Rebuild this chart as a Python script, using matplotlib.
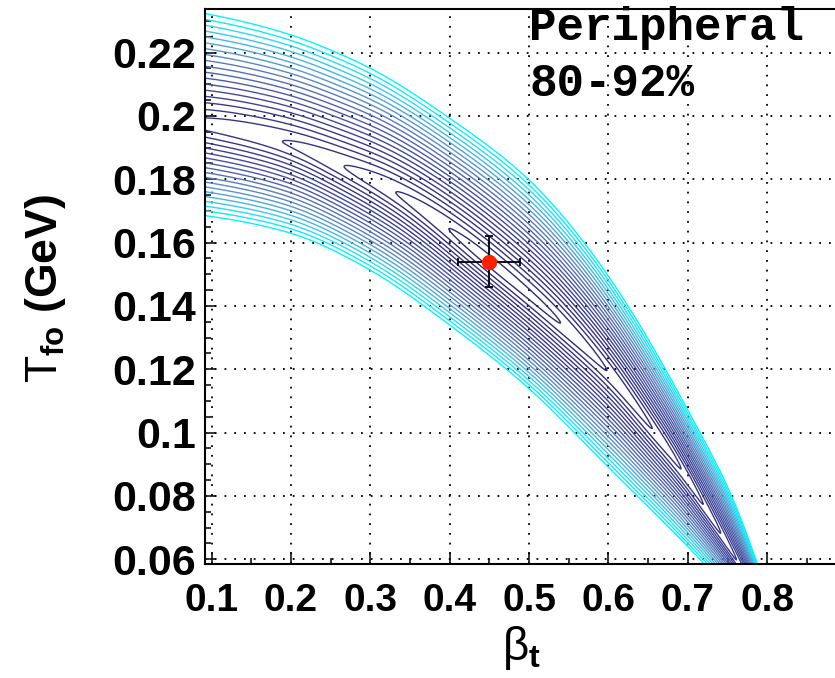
import numpy as np
import matplotlib
matplotlib.use("Agg")
import matplotlib.pyplot as plt
from matplotlib.colors import LinearSegmentedColormap
from matplotlib.ticker import MultipleLocator

plt.rcParams['font.family'] = ['Liberation Sans', 'DejaVu Sans']
plt.rcParams['mathtext.fontset'] = 'custom'
plt.rcParams['mathtext.rm'] = 'Liberation Sans'
plt.rcParams['mathtext.bf'] = 'Liberation Sans:bold'
plt.rcParams['mathtext.it'] = 'Liberation Sans:italic'

# ---- values ----
# upper edge of the outermost (largest) contour: beta -> T
top_beta = [0.0, 0.1, 0.2, 0.258, 0.3, 0.396, 0.5, 0.57, 0.625, 0.672, 0.715, 0.757, 0.786, 0.81, 0.95]
top_T = [0.236, 0.232, 0.2257, 0.22, 0.2152, 0.20, 0.18, 0.16, 0.14, 0.12, 0.10, 0.08, 0.06, 0.042, 0.0]
# lower edge of the outermost contour
low_beta = [0.0, 0.1, 0.2, 0.3, 0.4, 0.5, 0.6, 0.7, 0.8, 0.95]
low_T = [0.171, 0.1683, 0.1631, 0.1514, 0.1340, 0.1140, 0.0890, 0.0640, 0.037, -0.01]
# bottom of the chi2 valley
val_beta = [0.0, 0.1, 0.19, 0.267, 0.332, 0.45, 0.598, 0.656, 0.692, 0.72, 0.74, 0.8, 0.95]
val_T = [0.2, 0.197, 0.192, 0.184, 0.176, 0.154, 0.12, 0.101, 0.089, 0.077, 0.069, 0.043, -0.02]
# chi2 level along the valley bottom (in contour-level units)
g_beta = [0.0, 0.1, 0.19, 0.267, 0.332, 0.45, 0.52, 0.598, 0.656, 0.692, 0.72, 0.742, 0.8, 0.95]
g_val = [5.6, 4.6, 4.0, 3.0, 2.0, 0.6, 0.8, 2.0, 3.0, 4.0, 5.0, 6.0, 9.0, 15.0]
levels = list(range(1, 23))

# best-fit point
fit_beta = [0.449]
fit_T = [0.154]
fit_beta_err = [0.039]
fit_T_err = [0.008]

xticks = [0.1, 0.2, 0.3, 0.4, 0.5, 0.6, 0.7, 0.8]
xticklabels = ['0.1', '0.2', '0.3', '0.4', '0.5', '0.6', '0.7', '0.8']
yticks = [0.06, 0.08, 0.1, 0.12, 0.14, 0.16, 0.18, 0.2, 0.22]
yticklabels = ['0.06', '0.08', '0.1', '0.12', '0.14', '0.16', '0.18', '0.2', '0.22']


def pchip(x, xp, yp):
    xp = np.asarray(xp, float)
    yp = np.asarray(yp, float)
    hk = np.diff(xp)
    dk = np.diff(yp) / hk
    m = np.zeros_like(yp)
    for k in range(1, len(xp) - 1):
        if dk[k - 1] * dk[k] > 0:
            w1 = 2 * hk[k] + hk[k - 1]
            w2 = hk[k] + 2 * hk[k - 1]
            m[k] = (w1 + w2) / (w1 / dk[k - 1] + w2 / dk[k])
    m[0] = dk[0]
    m[-1] = dk[-1]
    idx = np.clip(np.searchsorted(xp, x) - 1, 0, len(xp) - 2)
    t = (x - xp[idx]) / hk[idx]
    h00 = 2 * t**3 - 3 * t**2 + 1
    h10 = t**3 - 2 * t**2 + t
    h01 = -2 * t**3 + 3 * t**2
    h11 = t**3 - t**2
    return (h00 * yp[idx] + h10 * hk[idx] * m[idx]
            + h01 * yp[idx + 1] + h11 * hk[idx] * m[idx + 1])


def smooth_curve(x, xp, yp, sigma=0.018):
    fine = np.linspace(xp[0], xp[-1], 1901)
    step = fine[1] - fine[0]
    y = pchip(fine, xp, yp)
    n = int(4 * sigma / step)
    k = np.exp(-0.5 * (np.arange(-n, n + 1) * step / sigma) ** 2)
    k /= k.sum()
    ypad = np.concatenate([np.full(n, y[0]), y, np.full(n, y[-1])])
    ys = np.convolve(ypad, k, mode='valid')
    return np.interp(x, fine, ys)


# ---- build field ----
bgrid = np.linspace(0.085, 0.89, 600)
tgrid = np.linspace(0.055, 0.236, 600)
B, T = np.meshgrid(bgrid, tgrid)
tp = smooth_curve(B, top_beta, top_T)
lo = smooth_curve(B, low_beta, low_T)
tc = smooth_curve(B, val_beta, val_T)
g = smooth_curve(B, g_beta, g_val, sigma=0.01)
d = T - tc
r = np.where(d >= 0, d / np.maximum(tp - tc, 1e-4), -d / np.maximum(tc - lo, 1e-4))
a = 0.1
h = (np.sqrt(r**2 + a**2) - a) / (np.sqrt(1 + a**2) - a)
Lmax = levels[-1]
F = g + (Lmax - g) * h

cmap = LinearSegmentedColormap.from_list(
    'root', [(0.0, '#2e2a78'), (0.3, '#3a3c8e'), (0.5, '#4e5eaa'), (0.65, '#5c84be'),
             (0.8, '#4ab2dc'), (0.9, '#2adaf0'), (1.0, '#00f6ff')])
cols = [cmap((lv - levels[0]) / (levels[-1] - levels[0])) for lv in levels]

W, H = 835, 678
fig = plt.figure(figsize=(W / 100, H / 100), dpi=100)
left, right, top, bottom = 204.5, 835.0, 9.0, 563.5
ax = fig.add_axes([left / W, 1 - bottom / H, (right - left) / W, (bottom - top) / H])

ax.contour(B, T, F, levels=levels, colors=cols, linewidths=1.0, zorder=2)

ax.errorbar(fit_beta, fit_T, xerr=fit_beta_err, yerr=fit_T_err, fmt='o',
            color='black', ecolor='black', elinewidth=1.3, capsize=3, capthick=1.3,
            markerfacecolor='#ff2000', markeredgecolor='#ff2000', markersize=10, zorder=5)

ax.set_xlim(0.09118, 0.8853)
ax.set_ylim(0.05867, 0.23379)

ax.set_xticks(xticks)
ax.set_xticklabels(xticklabels)
ax.set_yticks(yticks)
ax.set_yticklabels(yticklabels)
ax.xaxis.set_minor_locator(MultipleLocator(0.05))
ax.yaxis.set_minor_locator(MultipleLocator(0.005))
ax.tick_params(axis='both', which='both', direction='in', top=False, right=False, width=1.1)
ax.tick_params(axis='x', which='major', length=9, pad=14, labelsize=28)
ax.tick_params(axis='x', which='minor', length=4.5)
ax.tick_params(axis='y', which='major', length=8, pad=6, labelsize=31)
ax.tick_params(axis='y', which='minor', length=4.5)
for lab in ax.get_xticklabels() + ax.get_yticklabels():
    lab.set_fontweight('bold')

ax.grid(True, which='major', color='black', linestyle=(0, (1, 4.4)), linewidth=1.3, zorder=1)
ax.set_axisbelow(True)
for s in ['left', 'bottom', 'top']:
    ax.spines[s].set_linewidth(1.5)
ax.spines['right'].set_visible(False)

fig.text(45 / W, 1 - 288 / H, r'$\mathrm{T}_{\mathbf{fo}}$ (GeV)', rotation=90,
         ha='center', va='center', fontsize=32, fontweight='bold')
fig.text(522 / W, 1 - 648 / H, r'$\mathrm{\beta}_{\mathbf{t}}$', ha='center', va='center',
         fontsize=33)

fig.text(529 / W, 1 - 40 / H, 'Peripheral', family='Liberation Mono', fontweight='bold',
         fontsize=33, ha='left', va='baseline')
fig.text(529 / W, 1 - 96 / H, '80-92%', family='Liberation Mono', fontweight='bold',
         fontsize=33, ha='left', va='baseline')

fig.savefig('out.png', dpi=100)
